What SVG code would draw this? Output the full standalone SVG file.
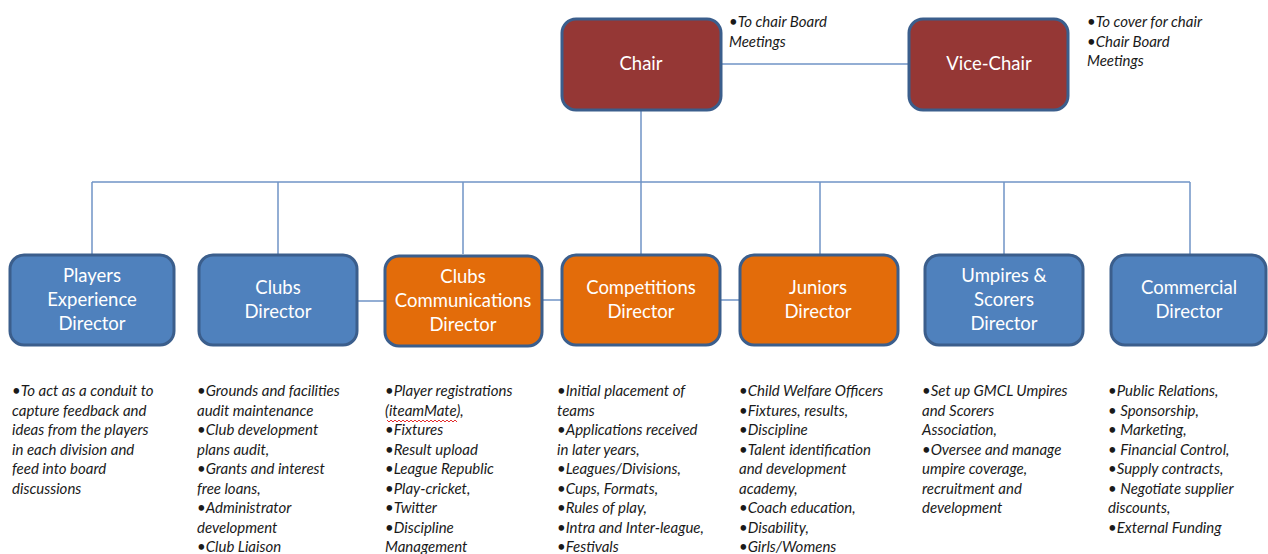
<svg xmlns="http://www.w3.org/2000/svg" width="1268" height="554" viewBox="0 0 1268 554">
<style>
.box{stroke:#3b5e8c;stroke-width:3}
.red{fill:#953735}
.blue{fill:#4f81bd}
.orange{fill:#e36c0a}
.lbl{font-family:Lato,"Liberation Sans",sans-serif;font-size:18.5px;fill:#ffffff;text-anchor:middle}
.note{font-family:Lato,"Liberation Sans",sans-serif;font-size:15px;font-style:italic;fill:#1a1a1a}
.conn{stroke:#6f93c6;stroke-width:1.5;fill:none}
.squig{stroke:#e03030;stroke-width:1;fill:none}
</style>
<g id="connectors">
<line class="conn" x1="722" y1="64" x2="908" y2="64"/>
<line class="conn" x1="641" y1="110" x2="641" y2="182"/>
<line class="conn" x1="92" y1="182" x2="1190" y2="182"/>
<line class="conn" x1="92" y1="182" x2="92" y2="254"/>
<line class="conn" x1="278" y1="182" x2="278" y2="254"/>
<line class="conn" x1="463" y1="182" x2="463" y2="254"/>
<line class="conn" x1="641" y1="182" x2="641" y2="254"/>
<line class="conn" x1="820" y1="182" x2="820" y2="254"/>
<line class="conn" x1="1004" y1="182" x2="1004" y2="254"/>
<line class="conn" x1="1190" y1="182" x2="1190" y2="254"/>
<line class="conn" x1="358" y1="301" x2="384" y2="301"/>
<line class="conn" x1="543" y1="300" x2="562" y2="300"/>
<line class="conn" x1="720" y1="300" x2="740" y2="300"/>
</g>
<g id="chair">
<rect class="box red" x="562" y="19" width="159" height="91" rx="14"/>
<text class="lbl" x="641" y="70">Chair</text>
</g>
<g id="vice-chair">
<rect class="box red" x="909" y="19" width="159" height="91" rx="14"/>
<text class="lbl" x="989" y="70">Vice-Chair</text>
</g>
<g id="chair-notes">
<text class="note" x="729" y="27">•To chair Board</text>
<text class="note" x="729" y="47">Meetings</text>
</g>
<g id="vice-chair-notes">
<text class="note" x="1087" y="27">•To cover for chair</text>
<text class="note" x="1087" y="47">•Chair Board</text>
<text class="note" x="1087" y="66">Meetings</text>
</g>
<g id="players">
<rect class="box blue" x="10" y="255" width="164" height="90" rx="14"/>
<text class="lbl" x="92" y="282">Players</text>
<text class="lbl" x="92" y="306">Experience</text>
<text class="lbl" x="92" y="330">Director</text>
</g>
<g id="clubs">
<rect class="box blue" x="199" y="255" width="158" height="90" rx="14"/>
<text class="lbl" x="278" y="294">Clubs</text>
<text class="lbl" x="278" y="318">Director</text>
</g>
<g id="clubs-comms">
<rect class="box orange" x="385" y="256" width="157" height="90" rx="14"/>
<text class="lbl" x="463" y="283">Clubs</text>
<text class="lbl" x="463" y="307">Communications</text>
<text class="lbl" x="463" y="331">Director</text>
</g>
<g id="competitions">
<rect class="box orange" x="562" y="255" width="158" height="90" rx="14"/>
<text class="lbl" x="641" y="294">Competitions</text>
<text class="lbl" x="641" y="318">Director</text>
</g>
<g id="juniors">
<rect class="box orange" x="740" y="255" width="158" height="90" rx="14"/>
<text class="lbl" x="818" y="294">Juniors</text>
<text class="lbl" x="818" y="318">Director</text>
</g>
<g id="umpires">
<rect class="box blue" x="925" y="255" width="158" height="90" rx="14"/>
<text class="lbl" x="1004" y="282">Umpires &amp;</text>
<text class="lbl" x="1004" y="306">Scorers</text>
<text class="lbl" x="1004" y="330">Director</text>
</g>
<g id="commercial">
<rect class="box blue" x="1111" y="255" width="155" height="90" rx="14"/>
<text class="lbl" x="1189" y="294">Commercial</text>
<text class="lbl" x="1189" y="318">Director</text>
</g>
<g id="players-notes">
<text class="note" x="12" y="396">•To act as a conduit to</text>
<text class="note" x="12" y="416">capture feedback and</text>
<text class="note" x="12" y="435">ideas from the players</text>
<text class="note" x="12" y="455">in each division and</text>
<text class="note" x="12" y="474">feed into board</text>
<text class="note" x="12" y="494">discussions</text>
</g>
<g id="clubs-notes">
<text class="note" x="197" y="396">•Grounds and facilities</text>
<text class="note" x="197" y="416">audit maintenance</text>
<text class="note" x="197" y="435">•Club development</text>
<text class="note" x="197" y="455">plans audit,</text>
<text class="note" x="197" y="474">•Grants and interest</text>
<text class="note" x="197" y="494">free loans,</text>
<text class="note" x="197" y="513">•Administrator</text>
<text class="note" x="197" y="533">development</text>
<text class="note" x="197" y="552">•Club Liaison</text>
</g>
<g id="clubs-comms-notes">
<text class="note" x="385" y="396">•Player registrations</text>
<text class="note" x="385" y="416">(iteamMate),</text>
<path class="squig" d="M387 420 l2 2 l2 -2 l2 2 l2 -2 l2 2 l2 -2 l2 2 l2 -2 l2 2 l2 -2 l2 2 l2 -2 l2 2 l2 -2 l2 2 l2 -2 l2 2 l2 -2 l2 2 l2 -2 l2 2 l2 -2 l2 2 l2 -2 l2 2 l2 -2 l2 2 l2 -2 l2 2 l2 -2 l2 2 l2 -2 l2 2 l2 -2 l2 2"/>
<text class="note" x="385" y="435">•Fixtures</text>
<text class="note" x="385" y="455">•Result upload</text>
<text class="note" x="385" y="474">•League Republic</text>
<text class="note" x="385" y="494">•Play-cricket,</text>
<text class="note" x="385" y="513">•Twitter</text>
<text class="note" x="385" y="533">•Discipline</text>
<text class="note" x="385" y="552">Management</text>
</g>
<g id="competitions-notes">
<text class="note" x="557" y="396">•Initial placement of</text>
<text class="note" x="557" y="416">teams</text>
<text class="note" x="557" y="435">•Applications received</text>
<text class="note" x="557" y="455">in later years,</text>
<text class="note" x="557" y="474">•Leagues/Divisions,</text>
<text class="note" x="557" y="494">•Cups, Formats,</text>
<text class="note" x="557" y="513">•Rules of play,</text>
<text class="note" x="557" y="533">•Intra and Inter-league,</text>
<text class="note" x="557" y="552">•Festivals</text>
</g>
<g id="juniors-notes">
<text class="note" x="739" y="396">•Child Welfare Officers</text>
<text class="note" x="739" y="416">•Fixtures, results,</text>
<text class="note" x="739" y="435">•Discipline</text>
<text class="note" x="739" y="455">•Talent identification</text>
<text class="note" x="739" y="474">and development</text>
<text class="note" x="739" y="494">academy,</text>
<text class="note" x="739" y="513">•Coach education,</text>
<text class="note" x="739" y="533">•Disability,</text>
<text class="note" x="739" y="552">•Girls/Womens</text>
</g>
<g id="umpires-notes">
<text class="note" x="922" y="396">•Set up GMCL Umpires</text>
<text class="note" x="922" y="416">and Scorers</text>
<text class="note" x="922" y="435">Association,</text>
<text class="note" x="922" y="455">•Oversee and manage</text>
<text class="note" x="922" y="474">umpire coverage,</text>
<text class="note" x="922" y="494">recruitment and</text>
<text class="note" x="922" y="513">development</text>
</g>
<g id="commercial-notes">
<text class="note" x="1108" y="396">•Public Relations,</text>
<text class="note" x="1108" y="416">• Sponsorship,</text>
<text class="note" x="1108" y="435">• Marketing,</text>
<text class="note" x="1108" y="455">• Financial  Control,</text>
<text class="note" x="1108" y="474">•Supply contracts,</text>
<text class="note" x="1108" y="494">• Negotiate supplier</text>
<text class="note" x="1108" y="513">discounts,</text>
<text class="note" x="1108" y="533">•External Funding</text>
</g>
</svg>
